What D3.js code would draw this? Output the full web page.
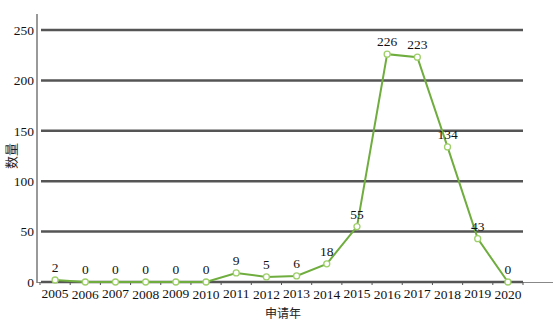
<!DOCTYPE html>
<html><head><meta charset="utf-8">
<script src="https://cdn.jsdelivr.net/npm/d3@7"></script>
<style>body{margin:0;background:#fff}svg{display:block}</style>
</head><body>
<script>
const years = ["2005","2006","2007","2008","2009","2010","2011","2012","2013","2014","2015","2016","2017","2018","2019","2020"];
const counts = [2,0,0,0,0,0,9,5,6,18,55,226,223,134,43,0];
const yTicks = [0,50,100,150,200,250];
const xTitle = "申请年";
const yTitle = "数量";

const W=553,H=322;
const svg=d3.select("body").append("svg").attr("width",W).attr("height",H);
const font="'Liberation Serif','Times New Roman',serif";
const x=d3.scaleBand().domain(years).range([40,523]);
const y=d3.scaleLinear().domain([0,250]).range([282,30]);

svg.append("line").attr("x1",37).attr("x2",W).attr("y1",282.5).attr("y2",282.5).attr("stroke","#888").attr("stroke-width",1);
svg.append("g").selectAll("line").data(yTicks).join("line")
  .attr("x1",41).attr("x2",523).attr("y1",d=>y(d)).attr("y2",d=>y(d))
  .attr("stroke","#555").attr("stroke-width",2.5);
svg.append("line").attr("x1",37).attr("x2",37).attr("y1",14).attr("y2",283).attr("stroke","#777").attr("stroke-width",1.5);
svg.append("g").selectAll("text").data(yTicks).join("text")
  .attr("x",34).attr("y",d=>y(d)).attr("dy","0.35em").attr("text-anchor","end")
  .attr("font-family",font).attr("font-size",13.5).attr("fill","#111").text(d=>d);
const bounds=years.map(d=>x(d)).concat([x(years[years.length-1])+x.bandwidth()]);
svg.append("g").selectAll("line").data(bounds).join("line")
  .attr("x1",d=>d).attr("x2",d=>d).attr("y1",282).attr("y2",285).attr("stroke","#555").attr("stroke-width",1);
svg.append("g").selectAll("text").data(years).join("text")
  .attr("x",d=>x(d)+x.bandwidth()/2).attr("y",(d,i)=>i%2?299:298).attr("text-anchor","middle")
  .attr("font-family",font).attr("font-size",13.5).attr("fill","#111").text(d=>d);
svg.append("text").attr("x",283).attr("y",318).attr("text-anchor","middle")
  .attr("font-family","'Noto Sans CJK SC',sans-serif").attr("font-size",12).attr("fill","#222").text(xTitle);
svg.append("text").attr("transform","translate(16,156) rotate(-90)").attr("text-anchor","middle")
  .attr("font-family","'Noto Sans CJK SC',sans-serif").attr("font-size",13).attr("fill","#222").text(yTitle);

const cx=(d,i)=>x(years[i])+x.bandwidth()/2;
const line=d3.line().x((d,i)=>cx(d,i)).y(d=>y(d));
svg.append("path").datum(counts).attr("d",line).attr("fill","none").attr("stroke","#6fae3e").attr("stroke-width",2);
svg.append("g").selectAll("circle").data(counts).join("circle")
  .attr("cx",cx).attr("cy",d=>y(d)).attr("r",3).attr("fill","#fff").attr("stroke","#9fcf6a").attr("stroke-width",1.3);
svg.append("g").selectAll("text").data(counts).join("text")
  .attr("x",cx).attr("y",d=>y(d)-8).attr("text-anchor","middle")
  .attr("font-family",font).attr("font-size",13.5).attr("fill","#111").text(d=>d);
</script>
</body></html>
